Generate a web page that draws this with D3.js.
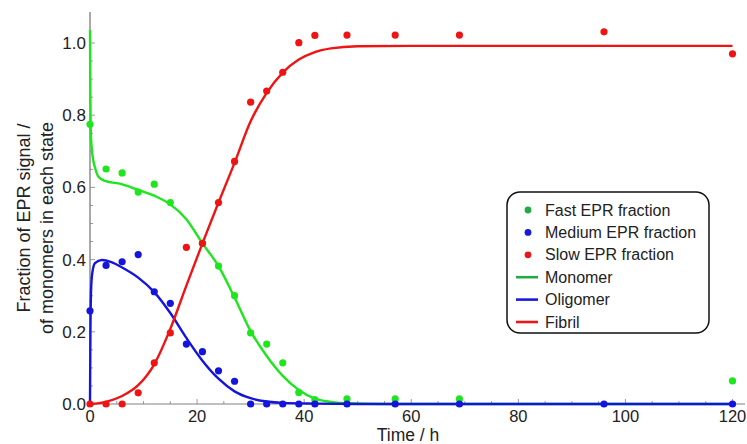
<!DOCTYPE html>
<html>
<head>
<meta charset="utf-8">
<title>EPR fractions vs time</title>
<style>
body { margin: 0; padding: 0; background: #fff; }
svg { display: block; font-family: "Liberation Sans", Arial, sans-serif; }
</style>
<script src="https://d3js.org/d3.v7.min.js"></script>
</head>
<body>
<svg id="chart" width="747" height="444"></svg>
<script>
// measured time points (h)
const times = [0, 3, 6, 9, 12, 15, 18, 21, 24, 27, 30, 33, 36, 39, 42, 48, 57, 69, 96, 120];
const fastEPR = [0.775, 0.651, 0.640, 0.587, 0.609, 0.558, null, 0.445, 0.382, 0.300, 0.197, 0.166, 0.114, 0.032, 0.012, 0.014, 0.014, 0.014, null, 0.064];
const mediumEPR = [0.258, 0.384, 0.394, 0.414, 0.311, 0.279, 0.166, 0.145, 0.092, 0.063, 0, 0, 0, 0, 0, 0, 0, 0, 0, 0];
const slowEPR = [0, 0, 0, 0.031, 0.114, 0.197, 0.434, 0.445, 0.558, 0.672, 0.836, 0.867, 0.919, 1.001, 1.021, 1.022, 1.022, 1.022, 1.031, 0.970];

// model curves
const monomerT = [0, 0.05, 0.13, 0.3, 0.6, 0.93, 1.55, 2.8, 5.9, 9, 12, 15, 18, 21, 24, 27, 30, 33, 36, 39, 42, 45, 48, 55, 120];
const monomerY = [1.036, 0.90, 0.76, 0.713, 0.676, 0.655, 0.630, 0.618, 0.609, 0.593, 0.577, 0.553, 0.512, 0.445, 0.382, 0.295, 0.202, 0.133, 0.078, 0.039, 0.015, 0.006, 0.002, 0, 0];
const oligomerT = [0, 0.08, 0.19, 0.4, 0.93, 2.2, 4, 6, 9, 12, 15, 18, 21, 24, 27, 30, 33, 36, 42, 50, 120];
const oligomerY = [0, 0.20, 0.31, 0.36, 0.39, 0.399, 0.393, 0.378, 0.35, 0.31, 0.252, 0.183, 0.12, 0.07, 0.035, 0.016, 0.007, 0.003, 0.001, 0, 0];
const fibrilT = [0, 3, 6, 9, 12, 15, 18, 21, 24, 27, 30, 33, 36, 39, 42, 45, 50, 60, 120];
const fibrilY = [0, 0.006, 0.022, 0.052, 0.11, 0.208, 0.328, 0.445, 0.558, 0.668, 0.783, 0.862, 0.918, 0.954, 0.975, 0.985, 0.991, 0.992, 0.992];

const xTicks = [0, 20, 40, 60, 80, 100, 120];
const yTicks = [0, 0.2, 0.4, 0.6, 0.8, 1.0];

const legendItems = [
  { label: "Fast EPR fraction", kind: "dot", color: "#22aa44" },
  { label: "Medium EPR fraction", kind: "dot", color: "#1a1add" },
  { label: "Slow EPR fraction", kind: "dot", color: "#e81818" },
  { label: "Monomer", kind: "line", color: "#22aa44" },
  { label: "Oligomer", kind: "line", color: "#1a1add" },
  { label: "Fibril", kind: "line", color: "#e81818" }
];

const green = "#1ee61e", blue = "#1414dc", red = "#ee1414";

const svg = d3.select("#chart");
const x = d3.scaleLinear().domain([0, 120]).range([90, 732.5]);
const y = d3.scaleLinear().domain([0, 1]).range([404, 43]);

// axes (Mathematica style: ticks inside)
const axisColor = "#808080";
svg.append("line")
  .attr("x1", x(0)).attr("x2", 745).attr("y1", y(0)).attr("y2", y(0))
  .attr("stroke", axisColor).attr("stroke-width", 1);
svg.append("line")
  .attr("x1", x(0)).attr("x2", x(0)).attr("y1", y(0)).attr("y2", y(1.086))
  .attr("stroke", "#555").attr("stroke-width", 1);

d3.range(0, 121, 5).forEach(t => {
  const major = t % 20 === 0;
  svg.append("line")
    .attr("x1", x(t)).attr("x2", x(t))
    .attr("y1", y(0)).attr("y2", y(0) - (major ? 5 : 3))
    .attr("stroke", axisColor).attr("stroke-width", 0.8);
});
d3.range(0, 21).forEach(i => {
  const v = i * 0.05;
  const major = i % 4 === 0;
  svg.append("line")
    .attr("x1", x(0)).attr("x2", x(0) + (major ? 5 : 3))
    .attr("y1", y(v)).attr("y2", y(v))
    .attr("stroke", axisColor).attr("stroke-width", 0.8);
});

svg.append("g").selectAll("text").data(xTicks).join("text")
  .attr("x", d => x(d)).attr("y", 422)
  .attr("text-anchor", "middle")
  .attr("font-size", 16.5).attr("fill", "#222")
  .text(d => d);
svg.append("g").selectAll("text").data(yTicks).join("text")
  .attr("x", 86).attr("y", d => y(d) + 6)
  .attr("text-anchor", "end")
  .attr("font-size", 17).attr("fill", "#222")
  .text(d => d.toFixed(1));

svg.append("text")
  .attr("x", 408).attr("y", 441)
  .attr("text-anchor", "middle").attr("font-size", 17.5).attr("fill", "#222")
  .text("Time / h");

svg.append("text")
  .attr("transform", "translate(30,218) rotate(-90)")
  .attr("text-anchor", "middle").attr("font-size", 18).attr("fill", "#222")
  .text("Fraction of EPR signal /");
svg.append("text")
  .attr("transform", "translate(53,228) rotate(-90)")
  .attr("text-anchor", "middle").attr("font-size", 18).attr("fill", "#222")
  .text("of monomers in each state");

// model curves
const line = d3.line().x(d => x(d[0])).y(d => y(d[1])).curve(d3.curveMonotoneX);
[[monomerT, monomerY, green], [oligomerT, oligomerY, blue], [fibrilT, fibrilY, red]].forEach(([ts, vs, c]) => {
  svg.append("path")
    .datum(ts.map((t, i) => [t, vs[i]]))
    .attr("fill", "none").attr("stroke", c).attr("stroke-width", 2.4)
    .attr("d", line);
});

// data points
[[fastEPR, green], [mediumEPR, blue], [slowEPR, red]].forEach(([vals, c]) => {
  svg.append("g").selectAll("circle")
    .data(times.map((t, i) => [t, vals[i]]).filter(d => d[1] !== null))
    .join("circle")
    .attr("cx", d => x(d[0])).attr("cy", d => y(d[1]))
    .attr("r", 3.6).attr("fill", c);
});

// legend
const lg = svg.append("g");
lg.append("rect")
  .attr("x", 507).attr("y", 192).attr("width", 202).attr("height", 141)
  .attr("rx", 13).attr("ry", 13)
  .attr("fill", "#fff").attr("stroke", "#111").attr("stroke-width", 1.5);
legendItems.forEach((it, i) => {
  const cy = 210 + i * 22.4;
  if (it.kind === "dot") {
    lg.append("circle").attr("cx", 528).attr("cy", cy).attr("r", 3.4).attr("fill", it.color);
  } else {
    lg.append("line").attr("x1", 516).attr("x2", 538).attr("y1", cy).attr("y2", cy)
      .attr("stroke", it.color).attr("stroke-width", 2.6);
  }
  lg.append("text").attr("x", 545).attr("y", cy + 5.5)
    .attr("font-size", 16).attr("fill", "#222").text(it.label);
});
</script>
</body>
</html>
